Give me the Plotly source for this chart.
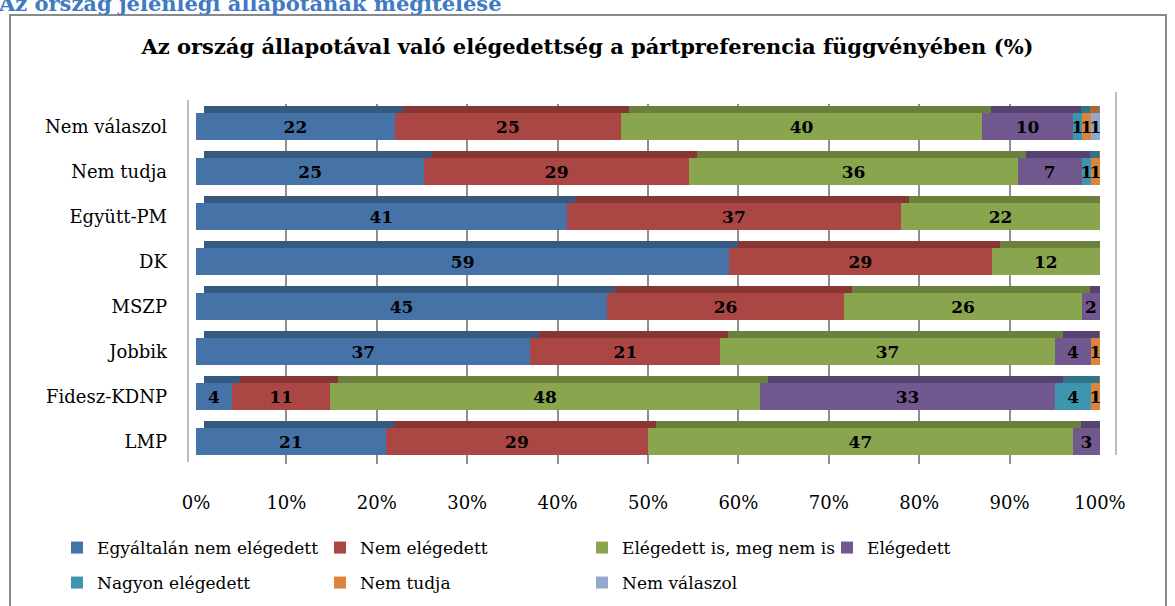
import plotly.graph_objects as go

categories = ["Nem válaszol", "Nem tudja", "Együtt-PM", "DK", "MSZP", "Jobbik", "Fidesz-KDNP", "LMP"]
series_names = ["Egyáltalán nem elégedett", "Nem elégedett", "Elégedett is, meg nem is",
                "Elégedett", "Nagyon elégedett", "Nem tudja", "Nem válaszol"]
egyaltalan = [22, 25, 41, 59, 45, 37, 4, 21]
nem_elegedett = [25, 29, 37, 29, 26, 21, 11, 29]
is_meg_nem_is = [40, 36, 22, 12, 26, 37, 48, 47]
elegedett = [10, 7, None, None, 2, 4, 33, 3]
nagyon = [1, 1, None, None, None, None, 4, None]
nem_tudja = [1, 1, None, None, None, 1, 1, None]
nem_valaszol = [1, None, None, None, None, None, None, None]
tick_vals = [0, 10, 20, 30, 40, 50, 60, 70, 80, 90, 100]
tick_text = [f"{v}%" for v in tick_vals]

series = [egyaltalan, nem_elegedett, is_meg_nem_is, elegedett, nagyon, nem_tudja, nem_valaszol]
face_colors = ["#4572A7", "#AA4643", "#89A54E", "#71588F", "#3D96AE", "#DB843D", "#92A8CD"]
top_colors = ["#35597F", "#863633", "#6A803C", "#57436F", "#2E7387", "#AC672F", "#7186A8"]

# legend entry placement (pixels in the 1175x606 page): two rows, four columns
legend_cols_px = [57, 320, 582, 827]
legend_rows_px = [548, 583]

FONT = "DejaVu Serif"
fig = go.Figure()

legend_ids = ["legend"] + [f"legend{k}" for k in range(2, len(series_names) + 1)]

# front faces
for i, (name, vals) in enumerate(zip(series_names, series)):
    fig.add_trace(go.Bar(
        y=categories, x=vals, orientation="h", name=name,
        marker=dict(color=face_colors[i], line=dict(width=0)),
        offset=-0.3, width=0.6,
        text=[str(v) if v else "" for v in vals],
        textposition="inside", insidetextanchor="middle", textangle=0,
        constraintext="none",
        textfont=dict(family=FONT, size=17, color="black", weight="bold"),
        legend=legend_ids[i],
        hoverinfo="skip",
    ))

# darker top faces (3D look)
for i, (name, vals) in enumerate(zip(series_names, series)):
    fig.add_trace(go.Bar(
        y=categories, x=vals, orientation="h", name=name,
        marker=dict(color=top_colors[i], line=dict(width=0)),
        offset=-0.455, width=0.155,
        xaxis="x2", yaxis="y2", showlegend=False, hoverinfo="skip",
    ))

legend_layout = {}
for i, lid in enumerate(legend_ids):
    col = i % 4
    row = i // 4
    legend_layout[lid] = dict(
        orientation="h", xref="container", yref="container",
        x=legend_cols_px[col] / 1175, xanchor="left",
        y=1 - legend_rows_px[row] / 606, yanchor="middle",
        itemwidth=30, font=dict(size=17), bgcolor="rgba(0,0,0,0)",
    )

fig.update_layout(
    width=1175, height=606,
    margin=dict(l=196, r=75, t=104, b=142),
    paper_bgcolor="white", plot_bgcolor="white",
    barmode="stack", barnorm="percent", bargap=0.4,
    font=dict(family=FONT, size=16, color="black"),
    title=dict(text="<b>Az ország állapotával való elégedettség a pártpreferencia függvényében (%)</b>",
               x=0.5, xref="container", xanchor="center",
               y=1 - 47 / 606, yref="container", yanchor="middle",
               font=dict(family=FONT, size=21, color="black")),
    xaxis=dict(range=[0, 100], tickmode="array", tickvals=tick_vals, ticktext=tick_text,
               showgrid=True, gridcolor="#8f8f8f", gridwidth=1.5,
               zeroline=False, showline=False, ticks="",
               ticklabelstandoff=26, tickfont=dict(size=18)),
    xaxis2=dict(range=[-0.9, 99.1], overlaying="x", visible=False),
    yaxis=dict(categoryorder="array", categoryarray=categories, range=[7.5, -0.5],
               showgrid=False, zeroline=False, ticks="", ticklabelstandoff=28,
               tickfont=dict(size=18)),
    yaxis2=dict(categoryorder="array", categoryarray=categories, range=[7.5, -0.5],
                overlaying="y", visible=False),
    showlegend=True,
    **legend_layout,
)

# chart frame and side walls (decoration)
fig.add_shape(type="rect", xref="paper", yref="paper",
              x0=(10 - 196) / 904, x1=(1166 - 196) / 904,
              y0=(464 - 640) / 360, y1=(464 - 15) / 360,
              line=dict(color="#8a8a8a", width=2), layer="below")
fig.add_shape(type="line", xref="paper", yref="paper",
              x0=(188 - 196) / 904, x1=(188 - 196) / 904,
              y0=(464 - 462) / 360, y1=(464 - 100) / 360,
              line=dict(color="#a6a6a6", width=1.5))
fig.add_shape(type="line", xref="paper", yref="paper",
              x0=(1116 - 196) / 904, x1=(1116 - 196) / 904,
              y0=(464 - 455) / 360, y1=(464 - 92) / 360,
              line=dict(color="#a6a6a6", width=1.5))

# cut-off page header above the chart
fig.add_annotation(text="<b>Az ország jelenlegi állapotának megítélése</b>",
                   xref="paper", yref="paper", x=(-4 - 196) / 904, y=(464 - 18) / 360,
                   xanchor="left", yanchor="bottom", showarrow=False,
                   font=dict(family=FONT, size=21, color="#3F7AC2"))

fig.write_html("out.html", config={"displayModeBar": False},
               post_script="document.body.style.margin='0';")
